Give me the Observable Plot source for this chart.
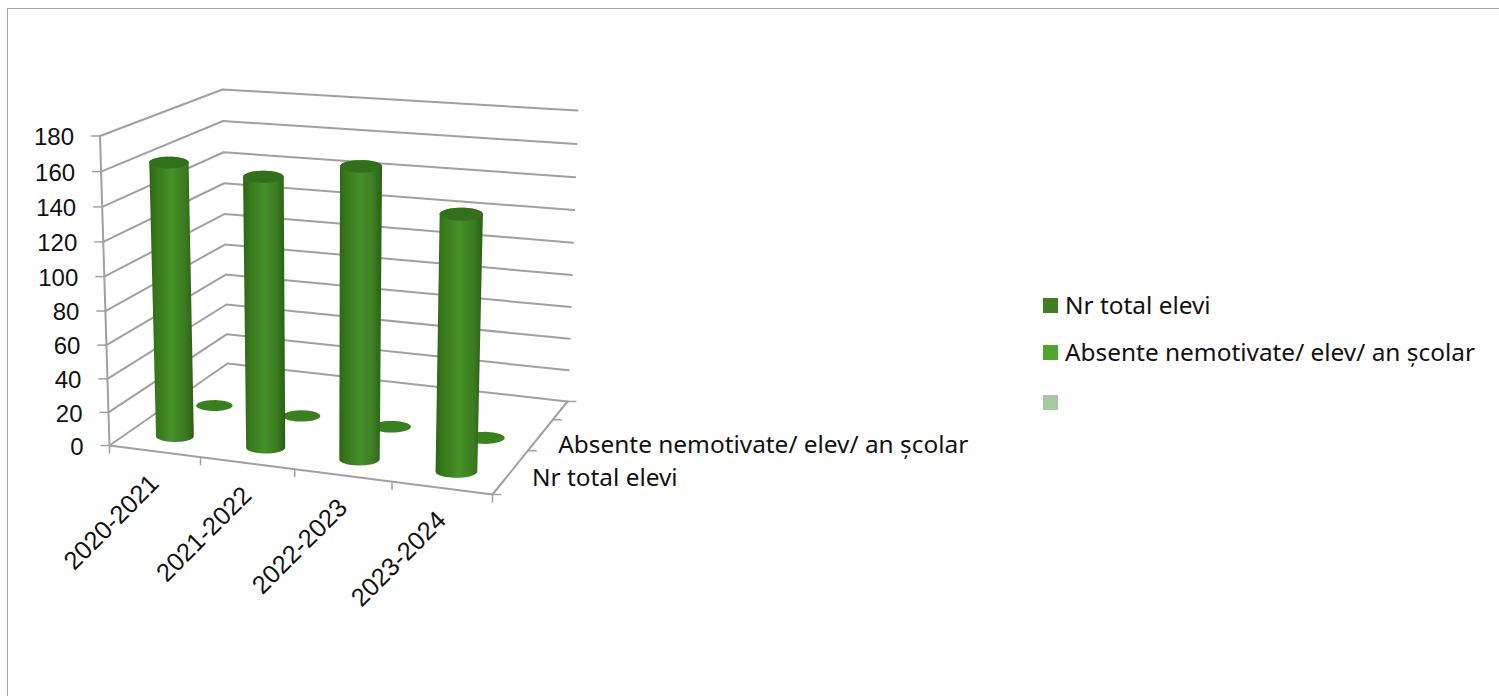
<!DOCTYPE html>
<html><head><meta charset="utf-8">
<script src="https://cdn.jsdelivr.net/npm/d3@7"></script>
<script src="https://cdn.jsdelivr.net/npm/@observablehq/plot@0.6"></script>
<style>
html,body{margin:0;padding:0;background:#fff;overflow:hidden}
#wrap{position:relative;width:1499px;height:696px;font-family:"Noto Sans",sans-serif;color:#111}
#frame{position:absolute;left:7px;top:8px;right:-2px;bottom:-2px;border:1px solid #a3a3a3;pointer-events:none}
.lg{position:absolute;left:1043px;display:flex;align-items:center;height:24px;font-size:24.4px;white-space:nowrap}
.lg i{display:inline-block;width:15px;height:15px;margin-right:7px}
.lg span{position:relative;top:-1px}
</style></head><body><div id="wrap"><div id="plotHost"></div><div id="frame"></div><div id="legendHost"></div></div>
<script>
// ---- data ----
const categories = ["2020-2021", "2021-2022", "2022-2023", "2023-2024"];
const seriesNames = ["Nr total elevi", "Absente nemotivate/ elev/ an școlar", ""];
const nrTotalElevi = [162, 158, 168, 146];
const absenteNemotivate = [1, 1, 1, 1];
const valueTicks = [0, 20, 40, 60, 80, 100, 120, 140, 160, 180];
const legendColors = ["#3f7f22", "#4ea72e", "#a6caa0"];

// ---- 3D projection of (category, depth, value) to the picture plane ----
const vMax = 180;
const corners = {
  fl0: [109, 445],  fr0: [492, 494],  bl0: [227, 363],  br0: [567, 401],
  fl1: [99.5, 135.5], fr1: [500, 165], bl1: [222, 89], br1: [577, 110]
};
const mix = (a, b, t) => [a[0] + (b[0] - a[0]) * t, a[1] + (b[1] - a[1]) * t];
const warpU = u => u - 0.066 * u * (1 - u);
const warpD = d => d + 0.615 * d * (1 - d);
const warpV = t => t - 0.04 * t * (1 - t);
function P(u, f, v) {
  const U = warpU(u), c = corners;
  const low = mix(mix(c.fl0, c.fr0, U), mix(c.bl0, c.br0, U), f);
  const high = mix(mix(c.fl1, c.fr1, U), mix(c.bl1, c.br1, U), f);
  const p = mix(low, high, warpV(v / vMax));
  return {x: p[0], y: p[1]};
}
const nCat = categories.length;
const uc = i => (i + 0.5) / nCat;
const seriesDepth = [0.18, 0.53];
const radiusU = 0.053, flatness = 0.3;

function radii(i, f, v) {
  const rx = (P(uc(i) + radiusU, f, v).x - P(uc(i) - radiusU, f, v).x) / 2;
  return [rx, rx * flatness];
}
const rad = a => a * Math.PI / 180;
const ellipse = (i, f, v) => {
  const c = P(uc(i), f, v), [rx, ry] = radii(i, f, v);
  return d3.range(0, 360, 8).map(a => ({id: i, x: c.x + rx * Math.cos(rad(a)), y: c.y + ry * Math.sin(rad(a))}));
};
const cylinderBody = (i, f, v) => {
  const b = P(uc(i), f, 0), t = P(uc(i), f, v);
  const [rb, sb] = radii(i, f, 0), [rt, st] = radii(i, f, v);
  const pts = [];
  for (let a = 0; a <= 180; a += 8) pts.push({id: i, x: b.x + rb * Math.cos(rad(a)), y: b.y + sb * Math.sin(rad(a))});
  for (let a = 180; a <= 360; a += 8) pts.push({id: i, x: t.x + rt * Math.cos(rad(a)), y: t.y + st * Math.sin(rad(a))});
  return pts;
};

const gridRows = valueTicks.flatMap(v => [
  {id: v, ...P(0, 0, v)}, {id: v, ...P(0, 1, v)}, {id: v, ...P(1, 1, v)}
]);
const leftAxis = [P(0, 0, 0), P(0, 0, vMax)];
const floorEdge = [P(0, 0, 0), P(1, 0, 0), P(1, 1, 0)];
const valueTickRows = valueTicks.map(v => ({v, ...P(0, 0, v)}));
const catTickRows = d3.range(nCat + 1).map(i => P(i / nCat, 0, 0));
const depthTickRows = [0, 1 / 3, 2 / 3, 1].map(warpD).map(f => P(1, f, 0));

const bodies = nrTotalElevi.flatMap((v, i) => cylinderBody(i, seriesDepth[0], v));
const capRows = nrTotalElevi.flatMap((v, i) => ellipse(i, seriesDepth[0], v));
const discs = absenteNemotivate.flatMap((v, i) => ellipse(i, seriesDepth[1], v));

const gradientDefs = () => {
  const d = d3.create("svg:defs");
  const g = d.append("linearGradient").attr("id", "cyl").attr("x1", 0).attr("x2", 1).attr("y1", 0).attr("y2", 0);
  [[0, "#2d6516"], [0.12, "#357519"], [0.5, "#469029"], [0.8, "#3b7c20"], [1, "#2a5e14"]]
    .forEach(([o, c]) => g.append("stop").attr("offset", o).attr("stop-color", c));
  return d.node();
};

const gridStroke = "#a0a0a0", gridWidth = 2;
const labelFont = '"Liberation Sans",Arial,sans-serif';
const out = Plot.plot({
  width: 1499, height: 696,
  margin: 0,
  x: {domain: [0, 1499], range: [0, 1499], axis: null},
  y: {domain: [0, 696], range: [0, 696], axis: null},
  style: {background: "transparent", fontFamily: '"Noto Sans",sans-serif', fontSize: "22px", color: "#111"},
  marks: [
    gradientDefs,
    Plot.line(gridRows, {x: "x", y: "y", z: "id", stroke: gridStroke, strokeWidth: gridWidth}),
    Plot.line(leftAxis, {x: "x", y: "y", stroke: gridStroke, strokeWidth: gridWidth}),
    Plot.line(floorEdge, {x: "x", y: "y", stroke: gridStroke, strokeWidth: gridWidth}),
    Plot.link(valueTickRows, {x1: d => d.x - 9, x2: "x", y1: "y", y2: "y", stroke: gridStroke, strokeWidth: 1.5}),
    Plot.link(catTickRows, {x1: "x", x2: "x", y1: "y", y2: d => d.y + 8, stroke: gridStroke, strokeWidth: 1.5}),
    Plot.link(depthTickRows, {x1: "x", x2: d => d.x + 9, y1: "y", y2: "y", stroke: gridStroke, strokeWidth: 1.5}),
    Plot.line(discs, {x: "x", y: "y", z: "id", fill: "#3a7f20", stroke: "none", curve: "linear-closed"}),
    Plot.line(bodies, {x: "x", y: "y", z: "id", fill: "url(#cyl)", stroke: "none", curve: "linear-closed"}),
    Plot.line(capRows, {x: "x", y: "y", z: "id", fill: "#33701b", stroke: "none", curve: "linear-closed"}),
    Plot.text(valueTickRows, {x: "x", y: "y", text: d => String(d.v), textAnchor: "end", dx: -26, dy: 1.5, fontSize: 24, fontFamily: labelFont, fill: "#111"}),
    Plot.text(categories, {
      x: (d, i) => P(uc(i), 0, 0).x, y: (d, i) => P(uc(i), 0, 0).y, text: d => d,
      rotate: -45, textAnchor: "end", dx: 0, dy: 28, fontSize: 25.5, fontFamily: labelFont, fill: "#111"
    }),
    Plot.text(seriesNames.slice(0, 2), {
      x: (d, i) => P(1, seriesDepth[i], 0).x, y: (d, i) => P(1, seriesDepth[i], 0).y, text: d => d,
      textAnchor: "start", dx: 26, dy: 0, fontSize: 24.4, fill: "#111"
    })
  ]
});
document.getElementById("plotHost").appendChild(out);

const legendTops = [293, 340, 390];
const lg = document.getElementById("legendHost");
seriesNames.forEach((s, i) => {
  const e = document.createElement("div");
  e.className = "lg"; e.style.top = legendTops[i] + "px";
  const sw = document.createElement("i"); sw.style.background = legendColors[i];
  const t = document.createElement("span"); t.textContent = s;
  e.appendChild(sw); e.appendChild(t);
  lg.appendChild(e);
});
</script></body></html>
